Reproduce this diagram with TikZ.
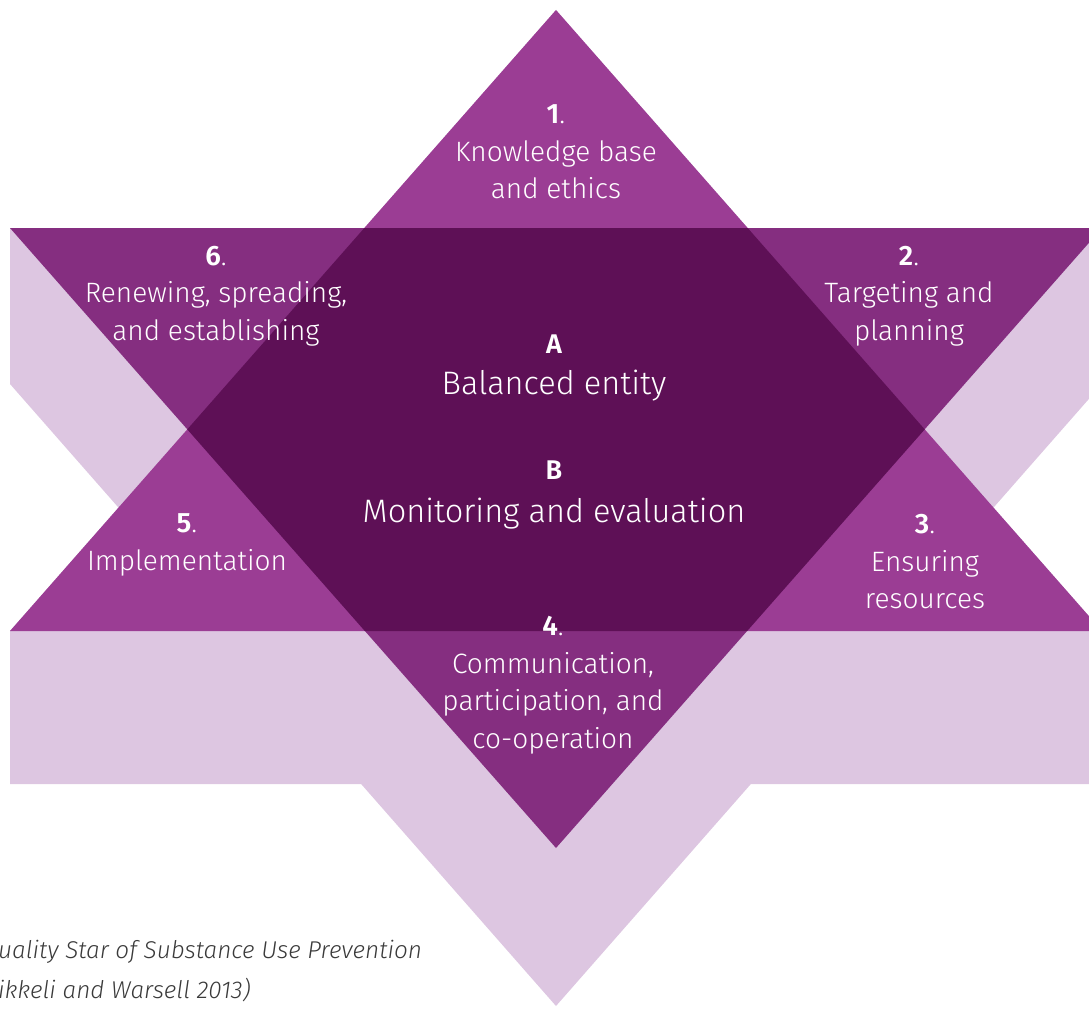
\documentclass[tikz,border=0pt]{standalone}
\usepackage{fontspec}
\setmainfont{Fira Sans Light}[BoldFont={Fira Sans SemiBold},ItalicFont={Fira Sans Light Italic}]
\usetikzlibrary{calc}
\definecolor{upc}{HTML}{9B3D94}
\definecolor{downc}{HTML}{852E80}
\definecolor{overc}{HTML}{5E1056}
\definecolor{shadc}{HTML}{DDC6E1}
\definecolor{capc}{HTML}{3A3A3A}
\tikzset{
  lbl/.style={text=white, align=center, inner sep=0pt, font=\fontsize{28}{37.5}\selectfont},
  biglbl/.style={text=white, align=center, inner sep=0pt, font=\fontsize{32.5}{40}\selectfont},
  letterlbl/.style={text=white, inner sep=0pt, font=\fontsize{27}{37}\selectfont\bfseries},
  caplbl/.style={text=capc, anchor=west, inner sep=0pt, font=\fontsize{24.3}{38}\selectfont\itshape}
}
\begin{document}
\begin{tikzpicture}[x=1pt,y=-1pt]
\useasboundingbox (0,0) rectangle (1089,1011);
\clip (0,0) rectangle (1089,1011);
% corners
\coordinate (U) at (556,10);
\coordinate (L) at (10,631);
\coordinate (R) at (1102,631);
\coordinate (DL) at (10,228);
\coordinate (DR) at (1102,228);
\coordinate (D) at (556,848);
% shadow (downward extrusion)
\fill[shadc] (U) -- (R) -- ($(R)+(0,153)$) -- ($(L)+(0,153)$) -- (L) -- cycle;
\fill[shadc] (DL) -- (DR) -- ($(DR)+(0,156)$) -- ($(D)+(0,158)$) -- ($(DL)+(0,156)$) -- cycle;
% triangles
\fill[upc] (U) -- (R) -- (L) -- cycle;
\fill[downc] (DL) -- (DR) -- (D) -- cycle;
\begin{scope}
  \clip (U) -- (R) -- (L) -- cycle;
  \fill[overc] (DL) -- (DR) -- (D) -- cycle;
\end{scope}
% labels
\node[lbl] (n1) at (556,152) {\textbf{1}.\\Knowledge base\\and ethics};
\node[lbl] (n6) at (216,296) {\textbf{6}.\\Renewing, spreading,\\and establishing};
\node[lbl] (n2) at (909,296) {\textbf{2}.\\Targeting and\\planning};
\node[letterlbl] (nA) at (554,344) {A};
\node[biglbl] (nAt) at (554,386) {Balanced entity};
\node[letterlbl] (nB) at (554,470) {B};
\node[biglbl] (nBt) at (554,514) {Monitoring and evaluation};
\node[lbl] (n5) at (187,545) {\textbf{5}.\\Implementation};
\node[lbl] (n3) at (925,562) {\textbf{3}.\\Ensuring\\resources};
\node[lbl] (n4) at (553,685) {\textbf{4}.\\Communication,\\participation, and\\co-operation};
% caption
\node[caplbl] (c1) at (-2,952) {uality Star of Substance Use Prevention};
\node[caplbl] (c2) at (-2,990) {ikkeli and Warsell 2013)};
\end{tikzpicture}
\end{document}
